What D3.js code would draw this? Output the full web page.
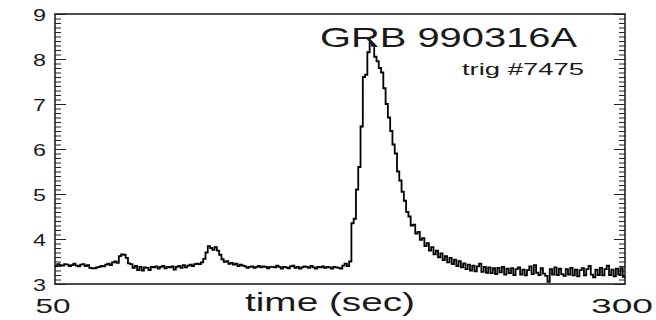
<!DOCTYPE html>
<html>
<head>
<meta charset="utf-8">
<script src="https://cdn.jsdelivr.net/npm/d3@7"></script>
<style>
  body { margin: 0; background: #fff; }
  text { font-family: "Liberation Sans", Arial, Helvetica, sans-serif; fill: #1a1a1a; }
</style>
</head>
<body>
<div id="chart-area"></div>
<script>
// ########################################
// DATA
// ########################################

const burstName = 'GRB 990316A';
const triggerLabel = 'trig #7475';
const xLabel = 'time (sec)';
const xTickLabels = ['50', '300'];
const yTickLabels = [3, 4, 5, 6, 7, 8, 9];

// light curve, one bin per second starting at t = 50 s
const binStart = 50;
const binWidth = 1;
const rates = [
  3.40, 3.44, 3.42, 3.41, 3.44, 3.43, 3.40, 3.42, 3.45, 3.41, // 50
  3.39, 3.43, 3.44, 3.40, 3.42, 3.36, 3.35, 3.35, 3.37, 3.38, // 60
  3.40, 3.39, 3.43, 3.45, 3.42, 3.48, 3.50, 3.47, 3.62, 3.66, // 70
  3.65, 3.58, 3.46, 3.44, 3.36, 3.40, 3.31, 3.38, 3.30, 3.37, // 80
  3.36, 3.31, 3.38, 3.37, 3.39, 3.34, 3.38, 3.40, 3.35, 3.38, // 90
  3.37, 3.39, 3.32, 3.38, 3.40, 3.36, 3.42, 3.37, 3.41, 3.43, // 100
  3.40, 3.44, 3.45, 3.44, 3.48, 3.56, 3.70, 3.84, 3.80, 3.76, // 110
  3.82, 3.74, 3.65, 3.55, 3.49, 3.51, 3.45, 3.47, 3.43, 3.45, // 120
  3.40, 3.43, 3.41, 3.39, 3.36, 3.38, 3.39, 3.36, 3.38, 3.40, // 130
  3.37, 3.39, 3.38, 3.35, 3.38, 3.38, 3.37, 3.41, 3.38, 3.34, // 140
  3.38, 3.37, 3.35, 3.39, 3.41, 3.36, 3.38, 3.34, 3.37, 3.39, // 150
  3.38, 3.36, 3.40, 3.37, 3.34, 3.38, 3.37, 3.39, 3.36, 3.38, // 160
  3.37, 3.34, 3.38, 3.37, 3.36, 3.34, 3.41, 3.45, 3.40, 3.50, // 170
  4.35, 4.45, 5.10, 5.60, 6.50, 7.60, 7.65, 8.15, 8.36, 8.30, // 180
  8.05, 7.95, 7.80, 7.70, 7.35, 7.00, 6.70, 6.40, 6.10, 5.90, // 190
  5.50, 5.30, 5.05, 4.85, 4.60, 4.50, 4.30, 4.32, 4.12, 4.16, // 200
  3.98, 4.02, 3.84, 3.91, 3.74, 3.82, 3.66, 3.74, 3.59, 3.68, // 210
  3.53, 3.62, 3.48, 3.58, 3.44, 3.54, 3.40, 3.51, 3.37, 3.46, // 220
  3.33, 3.43, 3.30, 3.41, 3.28, 3.39, 3.45, 3.27, 3.38, 3.25, // 230
  3.37, 3.24, 3.35, 3.22, 3.36, 3.26, 3.38, 3.21, 3.34, 3.24, // 240
  3.35, 3.20, 3.33, 3.37, 3.21, 3.32, 3.19, 3.31, 3.39, 3.22, // 250
  3.42, 3.25, 3.20, 3.35, 3.23, 3.18, 3.05, 3.33, 3.21, 3.37, // 260
  3.20, 3.34, 3.22, 3.18, 3.33, 3.21, 3.36, 3.19, 3.32, 3.17, // 270
  3.31, 3.35, 3.19, 3.33, 3.40, 3.21, 3.15, 3.32, 3.20, 3.36, // 280
  3.19, 3.33, 3.41, 3.20, 3.32, 3.17, 3.34, 3.21, 3.35, 3.16  // 290
];

// ########################################
// TARGET DOM/SELECTOR, SET BOUNDARIES
// ########################################

const margin = { left: 55, right: 31, top: 14, bottom: 36 };
const width = 656 - margin.left - margin.right;
const height = 320 - margin.top - margin.bottom;

const svg = d3.select('#chart-area')
  .append('svg')
  .attr('width', 656)
  .attr('height', 320);

const g = svg.append('g')
  .attr('transform', 'translate(' + margin.left + ', ' + margin.top + ')');

// ########################################
// SCALES
// ########################################

const x = d3.scaleLinear()
  .domain([+xTickLabels[0], +xTickLabels[1]])
  .range([0, width]);

const y = d3.scaleLinear()
  .domain(d3.extent(yTickLabels))
  .range([height, 0]);

// stretched text helper (the original lettering is wide)
function label(parent, str, px, py, size, len, anchor) {
  const t = parent.append('text')
    .attr('x', px)
    .attr('y', py)
    .attr('font-size', size + 'px')
    .attr('text-anchor', anchor || 'start')
    .text(str);
  if (len) {
    t.attr('textLength', len).attr('lengthAdjust', 'spacingAndGlyphs');
  }
  return t;
}

// ########################################
// FRAME + TICKS
// ########################################

const minorTicks = d3.range(yTickLabels[0], yTickLabels[yTickLabels.length - 1] + 0.001, 0.1);

// left side, ticks point inward
g.append('g')
  .attr('class', 'y-minor-left')
  .call(d3.axisLeft(y).tickValues(minorTicks).tickSize(-6).tickFormat(''));
g.append('g')
  .attr('class', 'y-major-left')
  .call(d3.axisLeft(y).tickValues(yTickLabels).tickSize(-11).tickFormat(''));

// right side mirrors the left
g.append('g')
  .attr('class', 'y-minor-right')
  .attr('transform', 'translate(' + width + ', 0)')
  .call(d3.axisRight(y).tickValues(minorTicks).tickSize(-6).tickFormat(''));
g.append('g')
  .attr('class', 'y-major-right')
  .attr('transform', 'translate(' + width + ', 0)')
  .call(d3.axisRight(y).tickValues(yTickLabels).tickSize(-11).tickFormat(''));

g.selectAll('.domain').remove();
g.selectAll('.tick line').attr('stroke', '#222').attr('stroke-width', 1);

g.append('rect')
  .attr('x', 0)
  .attr('y', 0)
  .attr('width', width)
  .attr('height', height)
  .attr('fill', 'none')
  .attr('stroke', '#222')
  .attr('stroke-width', 1.6);

// ########################################
// LABELS
// ########################################

yTickLabels.forEach(v => {
  label(svg, String(v), 46, margin.top + y(v) + 7, 17, 13, 'end');
});

label(svg, xTickLabels[0], 53, 313, 21, 35, 'middle');
label(svg, xTickLabels[1], 622, 313, 21, 62, 'middle');
label(svg, xLabel, 330, 311, 26, 170, 'middle');

label(svg, burstName, 320, 47, 28, 257, 'start');
label(svg, triggerLabel, 584, 75, 16, 122, 'end');

// ########################################
// LIGHT CURVE
// ########################################

const points = rates.map((r, i) => ({ t: binStart + i * binWidth, r: r }));
// close the last bin
points.push({ t: binStart + rates.length * binWidth, r: rates[rates.length - 1] });

const line = d3.line()
  .x(d => x(d.t))
  .y(d => y(d.r))
  .curve(d3.curveStepAfter);

g.append('path')
  .datum(points)
  .attr('fill', 'none')
  .attr('stroke', '#000')
  .attr('stroke-width', 1.8)
  .attr('d', line);
</script>
</body>
</html>
